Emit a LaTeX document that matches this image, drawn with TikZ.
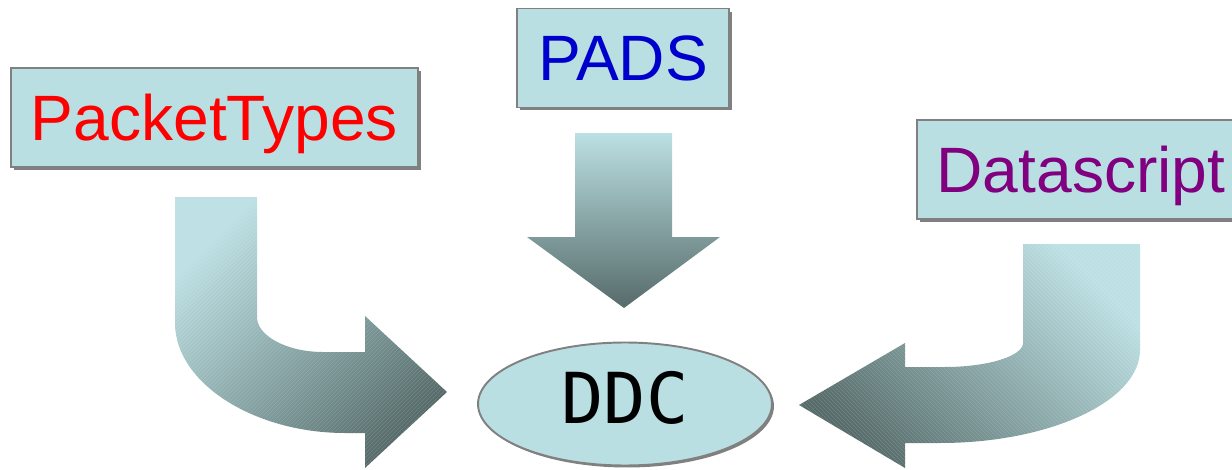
\documentclass[tikz,border=0pt]{standalone}
\usepackage{fontspec}
\usetikzlibrary{shapes.geometric, shadows, patterns}

\newfontfamily\labelFont{Liberation Sans}
\newfontfamily\monoFont{DejaVu Sans Mono}

\begin{document}
\begin{tikzpicture}[x=0.02cm, y=-0.02cm,
    labelBox/.style={draw=borderColour, fill=fillColour, line width=1.1pt,
        minimum height=1.98cm, inner sep=0pt, text height=26pt, text depth=0pt,
        font=\labelFont\fontsize{36.5}{40}\selectfont,
        drop shadow={shadow xshift=0.06cm, shadow yshift=-0.06cm, fill=borderColour, opacity=1}},
    arrowShade/.style={top color=arrowLight, bottom color=arrowDark}]

    \definecolor{borderColour}{HTML}{808080}
    \definecolor{fillColour}{HTML}{BADFE2}
    \definecolor{arrowLight}{HTML}{BCE0E3}
    \definecolor{arrowDark}{HTML}{566B6A}
    \definecolor{padsBlue}{HTML}{0000CC}
    \definecolor{dsPurple}{HTML}{800080}

    \useasboundingbox (0,0) rectangle (1232,470);

    % Source boxes
    \node[labelBox, minimum width=8.14cm, text=red] (packet) at (214.5,117.5) {PacketTypes};
    \node[labelBox, minimum width=4.24cm, text=padsBlue] (pads) at (623,58) {PADS};
    \node[labelBox, minimum width=6.56cm, text=dsPurple] (datascript) at (1081,169.5) {Datascript};

    % Target ellipse
    \node[ellipse, draw=borderColour, fill=fillColour, line width=1.1pt,
        minimum width=5.88cm, minimum height=2.46cm, inner sep=0pt,
        text height=29pt, text depth=7pt, font=\monoFont\fontsize{40}{44}\selectfont,
        drop shadow={shadow xshift=0.04cm, shadow yshift=-0.04cm, fill=borderColour, opacity=1}]
        (ddc) at (625,404) {DDC};

    % Straight arrow below PADS
    \shade[arrowShade] (575,133) -- (672,133) -- (672,237) -- (720,237) -- (624,308)
        -- (527,237) -- (575,237) -- cycle;

    % Bent arrow from PacketTypes
    \def\packetArrow{(175,197) -- (257,197) -- (257,317)
        .. controls (257,336) and (287,352) .. (323,352)
        -- (365,352) -- (365,316) -- (447,392) -- (365,468) -- (365,433) -- (345,433)
        .. controls (254,433) and (175,383) .. (175,323) -- cycle}
    \shade[arrowShade, shading angle=45] \packetArrow;
    \begin{scope}[opacity=0.15]
        \clip \packetArrow;
        \foreach \d in {0,4,...,600}
            \draw[white, line width=0.3pt] (175+\d-290,470) -- (175+\d,180);
    \end{scope}

    % Bent arrow from Datascript
    \def\dsArrow{(1023,244) -- (1140,244) -- (1140,350)
        .. controls (1140,401) and (1050,443) .. (940,443)
        -- (905,443) -- (905,468) -- (799,405) -- (905,343) -- (905,367) -- (945,367)
        .. controls (988,367) and (1023,356) .. (1023,343) -- cycle}
    \shade[arrowShade, shading angle=-45] \dsArrow;
    \begin{scope}[opacity=0.15]
        \clip \dsArrow;
        \foreach \d in {-300,-296,...,400}
            \draw[white, line width=0.3pt] (790+\d,230) -- (790+\d+240,470);
    \end{scope}

\end{tikzpicture}
\end{document}
